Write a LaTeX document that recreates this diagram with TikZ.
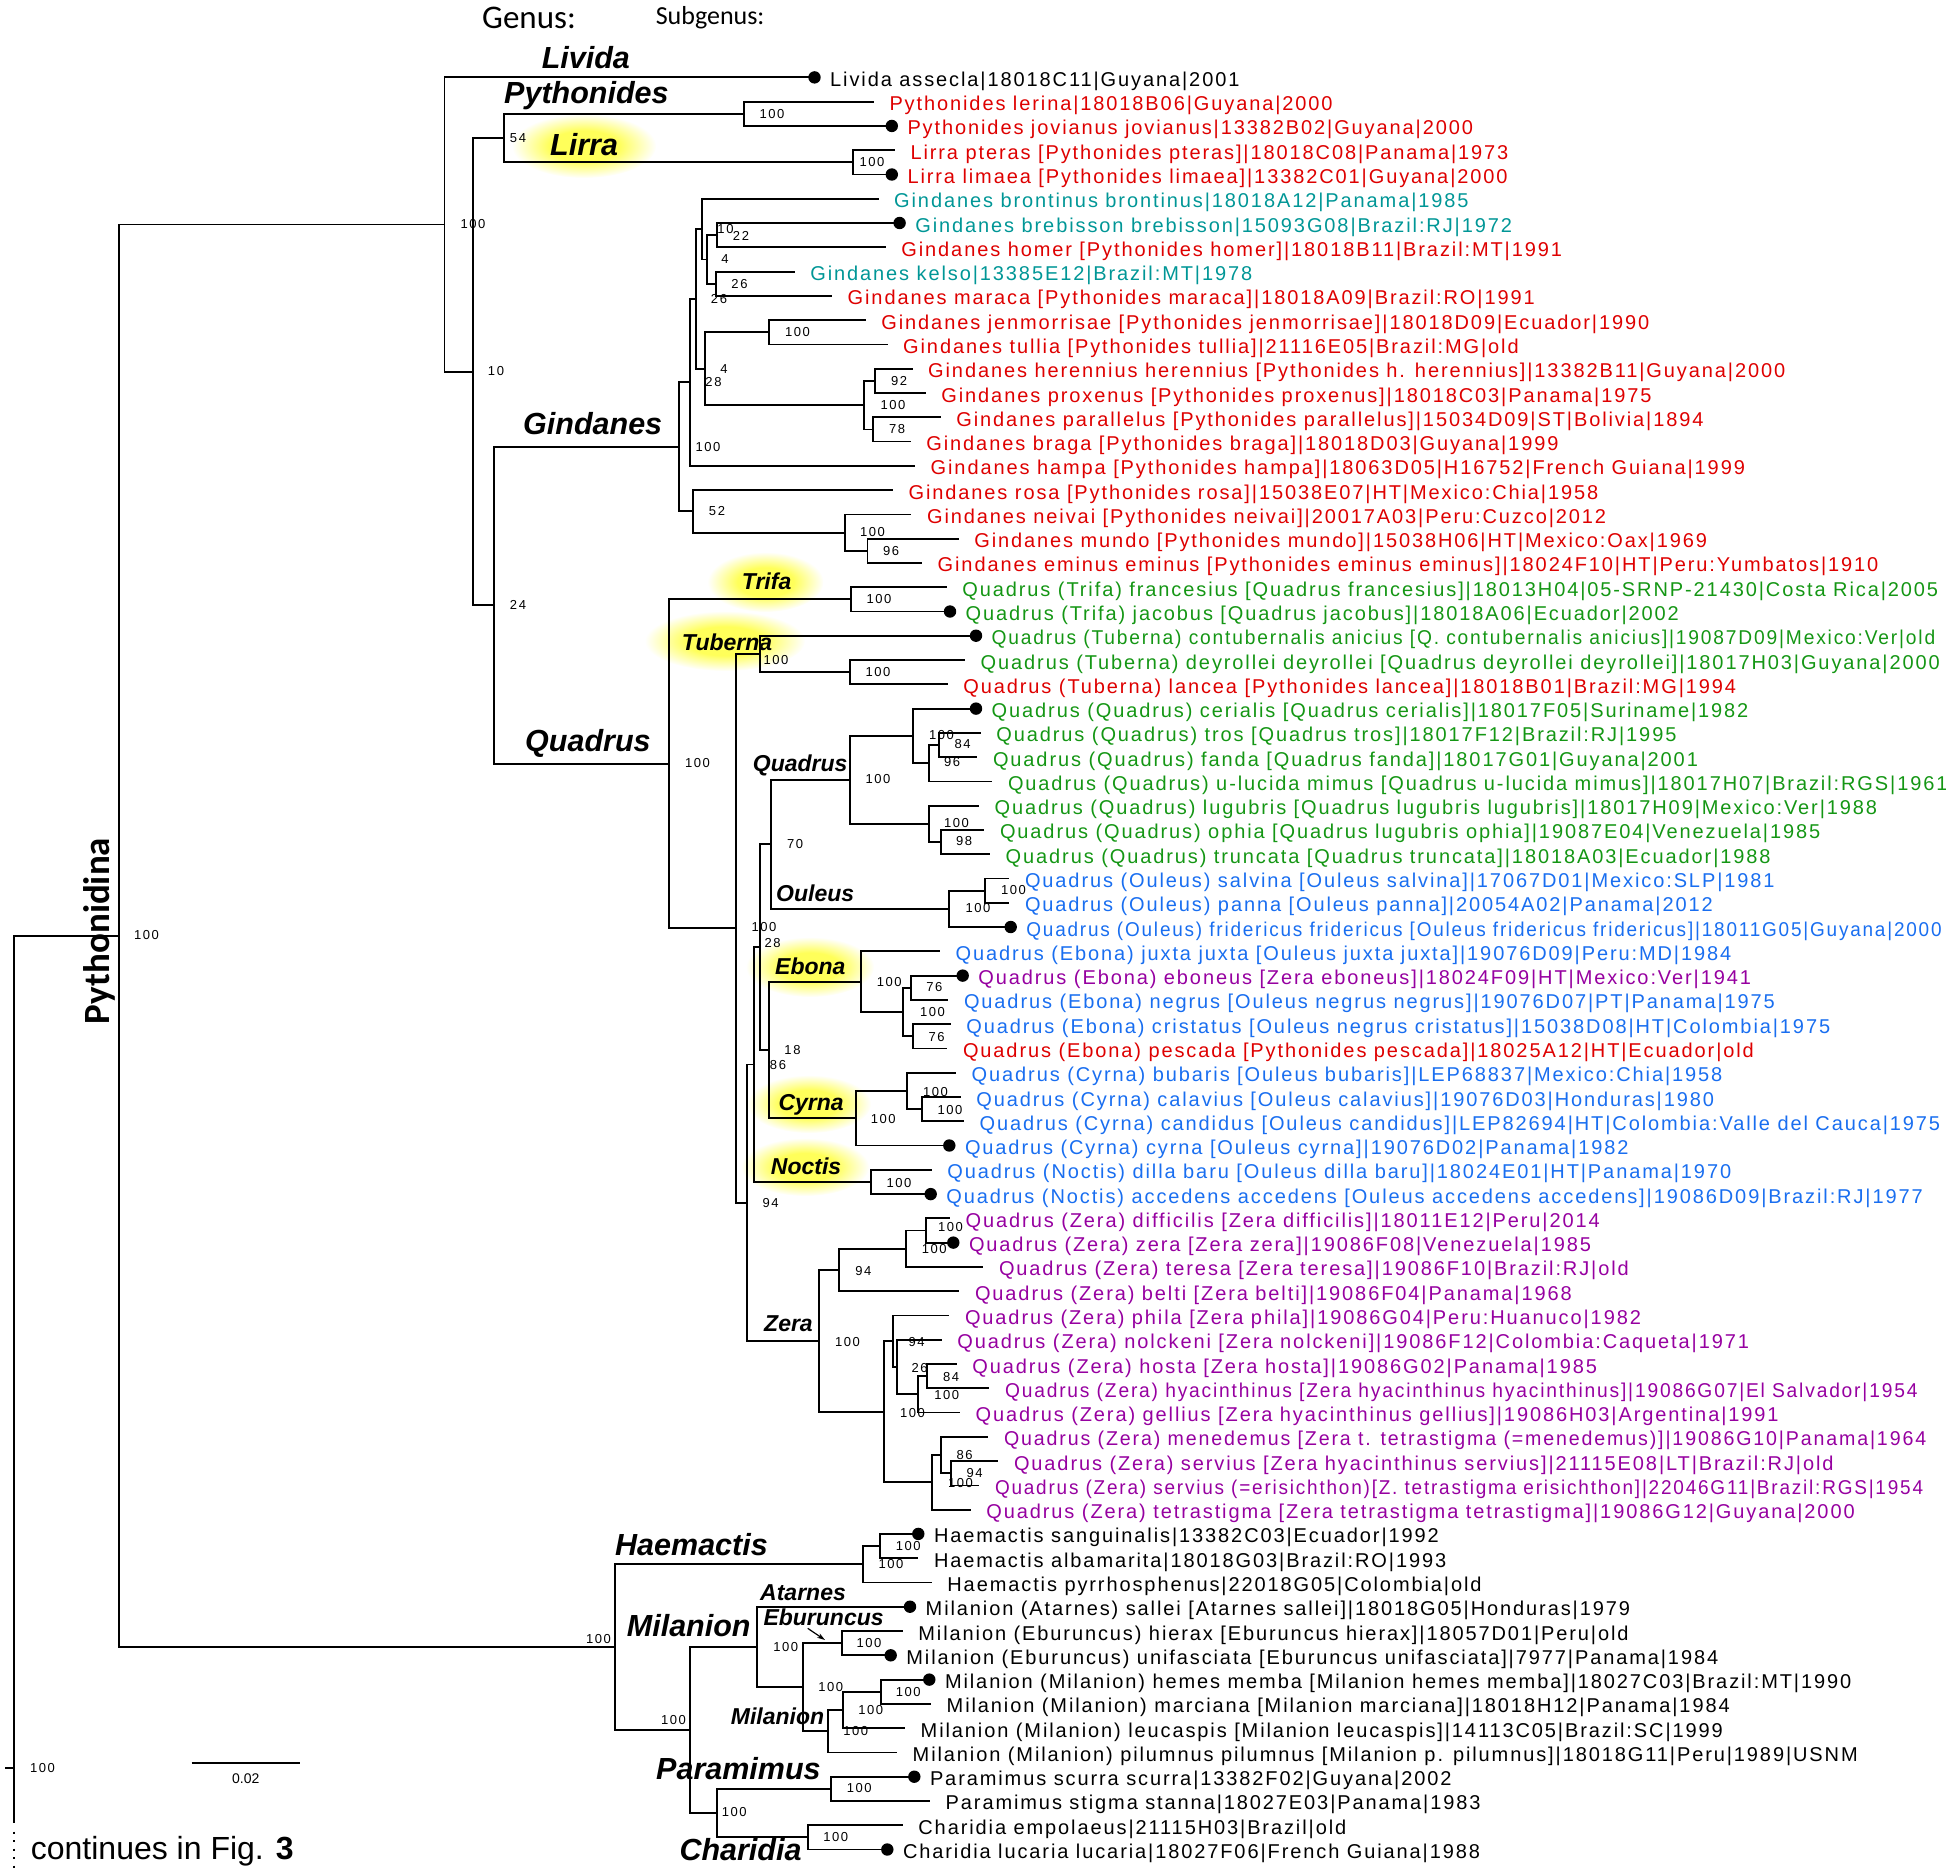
\documentclass[tikz,border=0pt]{standalone}
\usepackage{fontspec}
\setmainfont{Liberation Sans}
\newfontfamily\leaffont[LetterSpace=9.5]{Liberation Sans}
\newfontfamily\bootfont[LetterSpace=12]{Liberation Sans}
\newfontfamily\headfont{Carlito}
\usepackage{tikz}
\usetikzlibrary{fadings,arrows.meta}
\definecolor{pyred}{RGB}{222,0,0}
\definecolor{gteal}{RGB}{0,150,150}
\definecolor{qgreen}{RGB}{20,150,20}
\definecolor{oblue}{RGB}{25,110,240}
\definecolor{zpurple}{RGB}{150,0,160}
\definecolor{glowyellow}{RGB}{255,255,90}
\pgfdeclareradialshading{glowshade}{\pgfpointorigin}{color(0bp)=(pgftransparent!0); color(12bp)=(pgftransparent!0); color(25bp)=(pgftransparent!100)}
\pgfdeclarefading{glowfade}{\pgfuseshading{glowshade}}

\begin{document}
\begin{tikzpicture}[x=1pt, y=-1pt,
		edge_style/.style={draw=black, line width=1.8pt},
		leaf_style/.style={anchor=base west, xshift=15.5pt, yshift=-9pt, inner sep=0pt, font=\leaffont\fontsize{20}{24}\selectfont},
		dot_style/.style={circle, fill=black, inner sep=0pt, minimum size=12.4pt},
		boot_style/.style={inner sep=0pt, font=\bootfont\fontsize{13}{15}\selectfont},
		genus_style/.style={anchor=base west, inner sep=0pt, font=\fontsize{30.5}{36}\selectfont\bfseries\itshape},
		subgenus_style/.style={anchor=base west, inner sep=0pt, font=\fontsize{23}{27}\selectfont\bfseries\itshape},
		glow_style/.style={fill=glowyellow, path fading=glowfade}]
		
		\useasboundingbox (0,0) rectangle (1946,1873);
		
		\fill[glow_style] (584,146) ellipse [x radius=72, y radius=32];
		\fill[glow_style] (765.5,582) ellipse [x radius=58, y radius=30];
		\fill[glow_style] (725,641) ellipse [x radius=80, y radius=30];
		\fill[glow_style] (810,967) ellipse [x radius=64, y radius=30];
		\fill[glow_style] (809,1104) ellipse [x radius=62, y radius=29];
		\fill[glow_style] (805,1167) ellipse [x radius=64, y radius=29];
		
		\node[anchor=base west, inner sep=0pt, font=\headfont\fontsize{33}{38}\selectfont] (genushead) at (482,28.3) {Genus:};
		\node[anchor=base west, inner sep=0pt, font=\headfont\fontsize{26}{30}\selectfont] (subgenushead) at (655.6,25) {Subgenus:};
		\node[rotate=90, inner sep=0pt, font=\headfont\bfseries\fontsize{37}{42}\selectfont] (pythonidina) at (99,931) {Pythonidina};
		
		\node[genus_style] (gLivida) at (541.6,69) {Livida};
		\node[genus_style] (gPythonides) at (504,104) {Pythonides};
		\node[genus_style] (gLirra) at (550,155) {Lirra};
		\node[genus_style] (gGindanes) at (523,434.3) {Gindanes};
		\node[genus_style] (gQuadrus) at (525,751) {Quadrus};
		\node[genus_style] (gHaemactis) at (615,1555) {Haemactis};
		\node[genus_style] (gMilanion) at (626.7,1636.7) {Milanion};
		\node[genus_style] (gParamimus) at (656,1779.3) {Paramimus};
		\node[genus_style] (gCharidia) at (679.3,1860) {Charidia};
		
		\node[subgenus_style] (sTrifa) at (741.7,589.3) {Trifa};
		\node[subgenus_style] (sTuberna) at (681.7,650) {Tuberna};
		\node[subgenus_style] (sQuadrus) at (752.7,771.7) {Quadrus};
		\node[subgenus_style] (sOuleus) at (776,901.7) {Ouleus};
		\node[subgenus_style] (sEbona) at (775,974) {Ebona};
		\node[subgenus_style] (sCyrna) at (778.3,1110) {Cyrna};
		\node[subgenus_style] (sNoctis) at (770.7,1174) {Noctis};
		\node[subgenus_style] (sZera) at (764,1331.7) {Zera};
		\node[subgenus_style] (sAtarnes) at (760,1600) {Atarnes};
		\node[subgenus_style] (sEburuncus) at (763.3,1625) {Eburuncus};
		\node[subgenus_style] (sMilanion) at (730.7,1724) {Milanion};
		
		\coordinate (l1) at (814.5,77.4);
		\coordinate (l2) at (873.8,101.7);
		\coordinate (l3) at (891.8,125.95);
		\coordinate (l4) at (894.8,150.2);
		\coordinate (l5) at (891.8,174.5);
		\coordinate (l6) at (878.5,198.8);
		\coordinate (l7) at (899.6,223.0);
		\coordinate (l8) at (885.7,247.3);
		\coordinate (l9) at (794.6,271.6);
		\coordinate (l10) at (832,295.9);
		\coordinate (l11) at (865.7,320.2);
		\coordinate (l12) at (887.5,344.4);
		\coordinate (l13) at (912.5,368.7);
		\coordinate (l14) at (925.7,393.0);
		\coordinate (l15) at (940.7,417.3);
		\coordinate (l16) at (910.7,441.5);
		\coordinate (l17) at (915,465.8);
		\coordinate (l18) at (892.9,490.1);
		\coordinate (l19) at (911.4,514.4);
		\coordinate (l20) at (958.6,538.6);
		\coordinate (l21) at (922,562.9);
		\coordinate (l22) at (946.7,587.2);
		\coordinate (l23) at (950,611.5);
		\coordinate (l24) at (976,635.7);
		\coordinate (l25) at (965,660.0);
		\coordinate (l26) at (947.7,684.3);
		\coordinate (l27) at (976,708.6);
		\coordinate (l28) at (980.7,732.8);
		\coordinate (l29) at (977.3,757.1);
		\coordinate (l30) at (992.3,781.4);
		\coordinate (l31) at (979,805.7);
		\coordinate (l32) at (984.3,829.9);
		\coordinate (l33) at (990,854.2);
		\coordinate (l34) at (1009.3,878.5);
		\coordinate (l35) at (1009.3,902.8);
		\coordinate (l36) at (1010.7,927.0);
		\coordinate (l37) at (940,951.3);
		\coordinate (l38) at (962.7,975.6);
		\coordinate (l39) at (948.3,999.9);
		\coordinate (l40) at (950.7,1024.1);
		\coordinate (l41) at (947.3,1048.4);
		\coordinate (l42) at (956,1072.7);
		\coordinate (l43) at (960.7,1097.0);
		\coordinate (l44) at (964,1121.2);
		\coordinate (l45) at (949.3,1145.5);
		\coordinate (l46) at (931.7,1169.8);
		\coordinate (l47) at (930.7,1194.1);
		\coordinate (l48) at (950,1218.3);
		\coordinate (l49) at (953.3,1242.6);
		\coordinate (l50) at (983.3,1266.9);
		\coordinate (l51) at (959.3,1291.2);
		\coordinate (l52) at (949.3,1315.4);
		\coordinate (l53) at (941.7,1339.7);
		\coordinate (l54) at (956.7,1364.0);
		\coordinate (l55) at (989.3,1388.3);
		\coordinate (l56) at (960,1412.5);
		\coordinate (l57) at (988.3,1436.8);
		\coordinate (l58) at (998.3,1461.1);
		\coordinate (l59) at (979.3,1485.4);
		\coordinate (l60) at (970.7,1509.6);
		\coordinate (l61) at (918.3,1533.9);
		\coordinate (l62) at (918.3,1558.2);
		\coordinate (l63) at (931.7,1582.5);
		\coordinate (l64) at (910,1606.7);
		\coordinate (l65) at (902.7,1631.0);
		\coordinate (l66) at (890.7,1655.3);
		\coordinate (l67) at (929.3,1679.6);
		\coordinate (l68) at (931,1703.8);
		\coordinate (l69) at (905,1728.1);
		\coordinate (l70) at (897,1752.4);
		\coordinate (l71) at (914.3,1776.7);
		\coordinate (l72) at (930,1800.9);
		\coordinate (l73) at (902.7,1825.2);
		\coordinate (l74) at (887.3,1849.5);
		
		\coordinate (R) at (14.3,1767.7);
		\coordinate (Rstub) at (5,1767.7);
		\coordinate (Rlow) at (14.3,1822.7);
		\coordinate (Rdots) at (14.3,1872);
		\coordinate (PYN) at (118.6,935.85);
		\coordinate (A) at (444.5,224.55);
		\coordinate (B) at (472.7,371.7);
		\coordinate (P) at (504,138.1);
		\coordinate (Py) at (743.7,113.8);
		\coordinate (Li) at (852.7,162.35);
		\coordinate (C) at (494,605.3);
		\coordinate (G0) at (679.3,446.85);
		\coordinate (G1) at (690,382.35);
		\coordinate (G2) at (695.7,298.9);
		\coordinate (G3) at (701.8,229.1);
		\coordinate (G5) at (707.1,259.45);
		\coordinate (G6) at (717.1,235.15);
		\coordinate (G7) at (716,283.75);
		\coordinate (G4) at (705,368.7);
		\coordinate (G8) at (769.3,332.3);
		\coordinate (G9) at (864.3,405.1);
		\coordinate (G10) at (875,380.85);
		\coordinate (G11) at (873.2,429.4);
		\coordinate (G12) at (693.2,511.35);
		\coordinate (G13) at (844.6,532.6);
		\coordinate (G14) at (867.5,550.75);
		\coordinate (Q0) at (669,763.8);
		\coordinate (T) at (850.7,599.35);
		\coordinate (Q1) at (735.7,928.3);
		\coordinate (Tu) at (760,653.9);
		\coordinate (Tu2) at (850,672.15);
		\coordinate (Q7) at (747.3,1202.7);
		\coordinate (Q6) at (754.3,1064.5);
		\coordinate (Q4) at (760,947.1);
		\coordinate (Q3) at (770.7,844.35);
		\coordinate (QQ) at (850,779.9);
		\coordinate (QQa) at (913.3,735.9);
		\coordinate (QQb) at (929,763.2);
		\coordinate (QQc) at (939.3,744.95);
		\coordinate (QQd) at (929,823.9);
		\coordinate (QQe) at (940.7,842.05);
		\coordinate (Ou) at (949.3,908.8);
		\coordinate (Ou2) at (985,890.65);
		\coordinate (Q5) at (768.7,1049.9);
		\coordinate (Eb) at (861.3,981.65);
		\coordinate (Eb2) at (903.3,1012.0);
		\coordinate (Eb3) at (910.7,987.75);
		\coordinate (Eb4) at (912.7,1036.25);
		\coordinate (Cy) at (855.7,1118.2);
		\coordinate (Cy2) at (907.3,1090.9);
		\coordinate (Cy3) at (921.7,1109.1);
		\coordinate (No) at (870.7,1181.95);
		\coordinate (Z0) at (819.3,1340.85);
		\coordinate (Z1) at (839.3,1269.95);
		\coordinate (Z2) at (905.7,1248.7);
		\coordinate (Z3) at (925.7,1230.45);
		\coordinate (Z4) at (884,1411.75);
		\coordinate (Z5) at (893.3,1341.2);
		\coordinate (Z6) at (896.7,1367.0);
		\coordinate (Z7) at (918.3,1394.3);
		\coordinate (Z7b) at (926.7,1376.15);
		\coordinate (Z8) at (931.7,1482.3);
		\coordinate (Z9) at (940.7,1455.0);
		\coordinate (Z10) at (950.7,1473.25);
		\coordinate (M0) at (615,1647.15);
		\coordinate (H) at (862.7,1564.3);
		\coordinate (H2) at (880,1546.05);
		\coordinate (M1) at (690,1730.0);
		\coordinate (Mi) at (756.7,1646.9);
		\coordinate (Mi2) at (802.7,1687.15);
		\coordinate (Eu) at (841.7,1643.15);
		\coordinate (Mi3) at (828.3,1731.15);
		\coordinate (Mi4) at (843.3,1709.9);
		\coordinate (Mi5) at (880.7,1691.7);
		\coordinate (Pc) at (716.7,1813.1);
		\coordinate (Pa) at (830.7,1788.8);
		\coordinate (Ch) at (808.3,1837.35);
		
		\draw[edge_style] (R) |- (PYN) (R) -- (Rlow) (Rstub) -- (R);
		\draw[line width=2pt, dash pattern=on 2pt off 6.5pt] ([yshift=-9pt]Rlow) -- (Rdots);
		\draw[edge_style] (PYN) |- (A) (PYN) |- (M0);
		\draw[edge_style] (A) |- (l1) (A) |- (B);
		\draw[edge_style] (B) |- (P) (B) |- (C);
		\draw[edge_style] (P) |- (Py) (P) |- (Li);
		\draw[edge_style] (Py) |- (l2) (Py) |- (l3);
		\draw[edge_style] (Li) |- (l4) (Li) |- (l5);
		\draw[edge_style] (C) |- (G0) (C) |- (Q0);
		\draw[edge_style] (G0) |- (G1) (G0) |- (G12);
		\draw[edge_style] (G1) |- (G2) (G1) |- (l17);
		\draw[edge_style] (G2) |- (G3) (G2) |- (G4);
		\draw[edge_style] (G3) |- (l6) (G3) |- (G5);
		\draw[edge_style] (G5) |- (G6) (G5) |- (G7);
		\draw[edge_style] (G6) |- (l7) (G6) |- (l8);
		\draw[edge_style] (G7) |- (l9) (G7) |- (l10);
		\draw[edge_style] (G4) |- (G8) (G4) |- (G9);
		\draw[edge_style] (G8) |- (l11) (G8) |- (l12);
		\draw[edge_style] (G9) |- (G10) (G9) |- (G11);
		\draw[edge_style] (G10) |- (l13) (G10) |- (l14);
		\draw[edge_style] (G11) |- (l15) (G11) |- (l16);
		\draw[edge_style] (G12) |- (l18) (G12) |- (G13);
		\draw[edge_style] (G13) |- (l19) (G13) |- (G14);
		\draw[edge_style] (G14) |- (l20) (G14) |- (l21);
		\draw[edge_style] (Q0) |- (T) (Q0) |- (Q1);
		\draw[edge_style] (T) |- (l22) (T) |- (l23);
		\draw[edge_style] (Q1) |- (Tu) (Q1) |- (Q7);
		\draw[edge_style] (Tu) |- (l24) (Tu) |- (Tu2);
		\draw[edge_style] (Tu2) |- (l25) (Tu2) |- (l26);
		\draw[edge_style] (Q7) |- (Q6) (Q7) |- (Z0);
		\draw[edge_style] (Q6) |- (Q4) (Q6) |- (No);
		\draw[edge_style] (Q4) |- (Q3) (Q4) |- (Q5);
		\draw[edge_style] (Q3) |- (QQ) (Q3) |- (Ou);
		\draw[edge_style] (QQ) |- (QQa) (QQ) |- (QQd);
		\draw[edge_style] (QQa) |- (l27) (QQa) |- (QQb);
		\draw[edge_style] (QQb) |- (QQc) (QQb) |- (l30);
		\draw[edge_style] (QQc) |- (l28) (QQc) |- (l29);
		\draw[edge_style] (QQd) |- (l31) (QQd) |- (QQe);
		\draw[edge_style] (QQe) |- (l32) (QQe) |- (l33);
		\draw[edge_style] (Ou) |- (Ou2) (Ou) |- (l36);
		\draw[edge_style] (Ou2) |- (l34) (Ou2) |- (l35);
		\draw[edge_style] (Q5) |- (Eb) (Q5) |- (Cy);
		\draw[edge_style] (Eb) |- (l37) (Eb) |- (Eb2);
		\draw[edge_style] (Eb2) |- (Eb3) (Eb2) |- (Eb4);
		\draw[edge_style] (Eb3) |- (l38) (Eb3) |- (l39);
		\draw[edge_style] (Eb4) |- (l40) (Eb4) |- (l41);
		\draw[edge_style] (Cy) |- (Cy2) (Cy) |- (l45);
		\draw[edge_style] (Cy2) |- (l42) (Cy2) |- (Cy3);
		\draw[edge_style] (Cy3) |- (l43) (Cy3) |- (l44);
		\draw[edge_style] (No) |- (l46) (No) |- (l47);
		\draw[edge_style] (Z0) |- (Z1) (Z0) |- (Z4);
		\draw[edge_style] (Z1) |- (Z2) (Z1) |- (l51);
		\draw[edge_style] (Z2) |- (Z3) (Z2) |- (l50);
		\draw[edge_style] (Z3) |- (l48) (Z3) |- (l49);
		\draw[edge_style] (Z4) |- (Z5) (Z4) |- (Z8);
		\draw[edge_style] (Z5) |- (l52) (Z5) |- (Z6);
		\draw[edge_style] (Z6) |- (l53) (Z6) |- (Z7);
		\draw[edge_style] (Z7) |- (Z7b) (Z7) |- (l56);
		\draw[edge_style] (Z7b) |- (l54) (Z7b) |- (l55);
		\draw[edge_style] (Z8) |- (Z9) (Z8) |- (l60);
		\draw[edge_style] (Z9) |- (l57) (Z9) |- (Z10);
		\draw[edge_style] (Z10) |- (l58) (Z10) |- (l59);
		\draw[edge_style] (M0) |- (H) (M0) |- (M1);
		\draw[edge_style] (H) |- (H2) (H) |- (l63);
		\draw[edge_style] (H2) |- (l61) (H2) |- (l62);
		\draw[edge_style] (M1) |- (Mi) (M1) |- (Pc);
		\draw[edge_style] (Mi) |- (l64) (Mi) |- (Mi2);
		\draw[edge_style] (Mi2) |- (Eu) (Mi2) |- (Mi3);
		\draw[edge_style] (Eu) |- (l65) (Eu) |- (l66);
		\draw[edge_style] (Mi3) |- (Mi4) (Mi3) |- (l70);
		\draw[edge_style] (Mi4) |- (Mi5) (Mi4) |- (l69);
		\draw[edge_style] (Mi5) |- (l67) (Mi5) |- (l68);
		\draw[edge_style] (Pc) |- (Pa) (Pc) |- (Ch);
		\draw[edge_style] (Pa) |- (l71) (Pa) |- (l72);
		\draw[edge_style] (Ch) |- (l73) (Ch) |- (l74);
		
		\coordinate (ebarrowa) at (807.7,1628.3);
		\coordinate (ebarrowb) at (825,1640);
		\draw[line width=1.2pt, -{Stealth[length=8pt, width=5pt]}] (ebarrowa) -- (ebarrowb);
		
		\node[dot_style] (d1) at (l1) {};
		\node[dot_style] (d3) at (l3) {};
		\node[dot_style] (d5) at (l5) {};
		\node[dot_style] (d7) at (l7) {};
		\node[dot_style] (d23) at (l23) {};
		\node[dot_style] (d24) at (l24) {};
		\node[dot_style] (d27) at (l27) {};
		\node[dot_style] (d36) at (l36) {};
		\node[dot_style] (d38) at (l38) {};
		\node[dot_style] (d45) at (l45) {};
		\node[dot_style] (d47) at (l47) {};
		\node[dot_style] (d49) at (l49) {};
		\node[dot_style] (d61) at (l61) {};
		\node[dot_style] (d64) at (l64) {};
		\node[dot_style] (d66) at (l66) {};
		\node[dot_style] (d67) at (l67) {};
		\node[dot_style] (d71) at (l71) {};
		\node[dot_style] (d74) at (l74) {};
		
		\node[leaf_style] (n1) at (l1) {Livida assecla|18018C11|Guyana|2001};
		\node[leaf_style, text=pyred] (n2) at (l2) {Pythonides lerina|18018B06|Guyana|2000};
		\node[leaf_style, text=pyred] (n3) at (l3) {Pythonides jovianus jovianus|13382B02|Guyana|2000};
		\node[leaf_style, text=pyred] (n4) at (l4) {Lirra pteras [Pythonides pteras]|18018C08|Panama|1973};
		\node[leaf_style, text=pyred] (n5) at (l5) {Lirra limaea [Pythonides limaea]|13382C01|Guyana|2000};
		\node[leaf_style, text=gteal] (n6) at (l6) {Gindanes brontinus brontinus|18018A12|Panama|1985};
		\node[leaf_style, text=gteal] (n7) at (l7) {Gindanes brebisson brebisson|15093G08|Brazil:RJ|1972};
		\node[leaf_style, text=pyred] (n8) at (l8) {Gindanes homer [Pythonides homer]|18018B11|Brazil:MT|1991};
		\node[leaf_style, text=gteal] (n9) at (l9) {Gindanes kelso|13385E12|Brazil:MT|1978};
		\node[leaf_style, text=pyred] (n10) at (l10) {Gindanes maraca [Pythonides maraca]|18018A09|Brazil:RO|1991};
		\node[leaf_style, text=pyred] (n11) at (l11) {Gindanes jenmorrisae [Pythonides jenmorrisae]|18018D09|Ecuador|1990};
		\node[leaf_style, text=pyred] (n12) at (l12) {Gindanes tullia [Pythonides tullia]|21116E05|Brazil:MG|old};
		\node[leaf_style, text=pyred] (n13) at (l13) {Gindanes herennius herennius [Pythonides h. herennius]|13382B11|Guyana|2000};
		\node[leaf_style, text=pyred] (n14) at (l14) {Gindanes proxenus [Pythonides proxenus]|18018C03|Panama|1975};
		\node[leaf_style, text=pyred] (n15) at (l15) {Gindanes parallelus [Pythonides parallelus]|15034D09|ST|Bolivia|1894};
		\node[leaf_style, text=pyred] (n16) at (l16) {Gindanes braga [Pythonides braga]|18018D03|Guyana|1999};
		\node[leaf_style, text=pyred] (n17) at (l17) {Gindanes hampa [Pythonides hampa]|18063D05|H16752|French Guiana|1999};
		\node[leaf_style, text=pyred] (n18) at (l18) {Gindanes rosa [Pythonides rosa]|15038E07|HT|Mexico:Chia|1958};
		\node[leaf_style, text=pyred] (n19) at (l19) {Gindanes neivai [Pythonides neivai]|20017A03|Peru:Cuzco|2012};
		\node[leaf_style, text=pyred] (n20) at (l20) {Gindanes mundo [Pythonides mundo]|15038H06|HT|Mexico:Oax|1969};
		\node[leaf_style, text=pyred] (n21) at (l21) {Gindanes eminus eminus [Pythonides eminus eminus]|18024F10|HT|Peru:Yumbatos|1910};
		\node[leaf_style, text=qgreen] (n22) at (l22) {Quadrus (Trifa) francesius [Quadrus francesius]|18013H04|05-SRNP-21430|Costa Rica|2005};
		\node[leaf_style, text=qgreen] (n23) at (l23) {Quadrus (Trifa) jacobus [Quadrus jacobus]|18018A06|Ecuador|2002};
		\node[leaf_style, text=qgreen] (n24) at (l24) {\scalebox{0.96}[1]{Quadrus (Tuberna) contubernalis anicius [Q. contubernalis anicius]|19087D09|Mexico:Ver|old}};
		\node[leaf_style, text=qgreen] (n25) at (l25) {Quadrus (Tuberna) deyrollei deyrollei [Quadrus deyrollei deyrollei]|18017H03|Guyana|2000};
		\node[leaf_style, text=pyred] (n26) at (l26) {Quadrus (Tuberna) lancea [Pythonides lancea]|18018B01|Brazil:MG|1994};
		\node[leaf_style, text=qgreen] (n27) at (l27) {Quadrus (Quadrus) cerialis [Quadrus cerialis]|18017F05|Suriname|1982};
		\node[leaf_style, text=qgreen] (n28) at (l28) {Quadrus (Quadrus) tros [Quadrus tros]|18017F12|Brazil:RJ|1995};
		\node[leaf_style, text=qgreen] (n29) at (l29) {Quadrus (Quadrus) fanda [Quadrus fanda]|18017G01|Guyana|2001};
		\node[leaf_style, text=qgreen] (n30) at (l30) {Quadrus (Quadrus) u-lucida mimus [Quadrus u-lucida mimus]|18017H07|Brazil:RGS|1961};
		\node[leaf_style, text=qgreen] (n31) at (l31) {Quadrus (Quadrus) lugubris [Quadrus lugubris lugubris]|18017H09|Mexico:Ver|1988};
		\node[leaf_style, text=qgreen] (n32) at (l32) {Quadrus (Quadrus) ophia [Quadrus lugubris ophia]|19087E04|Venezuela|1985};
		\node[leaf_style, text=qgreen] (n33) at (l33) {Quadrus (Quadrus) truncata [Quadrus truncata]|18018A03|Ecuador|1988};
		\node[leaf_style, text=oblue] (n34) at (l34) {Quadrus (Ouleus) salvina [Ouleus salvina]|17067D01|Mexico:SLP|1981};
		\node[leaf_style, text=oblue] (n35) at (l35) {Quadrus (Ouleus) panna [Ouleus panna]|20054A02|Panama|2012};
		\node[leaf_style, text=oblue] (n36) at (l36) {\scalebox{0.948}[1]{Quadrus (Ouleus) fridericus fridericus [Ouleus fridericus fridericus]|18011G05|Guyana|2000}};
		\node[leaf_style, text=oblue] (n37) at (l37) {Quadrus (Ebona) juxta juxta [Ouleus juxta juxta]|19076D09|Peru:MD|1984};
		\node[leaf_style, text=zpurple] (n38) at (l38) {Quadrus (Ebona) eboneus [Zera eboneus]|18024F09|HT|Mexico:Ver|1941};
		\node[leaf_style, text=oblue] (n39) at (l39) {Quadrus (Ebona) negrus [Ouleus negrus negrus]|19076D07|PT|Panama|1975};
		\node[leaf_style, text=oblue] (n40) at (l40) {Quadrus (Ebona) cristatus [Ouleus negrus cristatus]|15038D08|HT|Colombia|1975};
		\node[leaf_style, text=pyred] (n41) at (l41) {Quadrus (Ebona) pescada [Pythonides pescada]|18025A12|HT|Ecuador|old};
		\node[leaf_style, text=oblue] (n42) at (l42) {Quadrus (Cyrna) bubaris [Ouleus bubaris]|LEP68837|Mexico:Chia|1958};
		\node[leaf_style, text=oblue] (n43) at (l43) {Quadrus (Cyrna) calavius [Ouleus calavius]|19076D03|Honduras|1980};
		\node[leaf_style, text=oblue] (n44) at (l44) {Quadrus (Cyrna) candidus [Ouleus candidus]|LEP82694|HT|Colombia:Valle del Cauca|1975};
		\node[leaf_style, text=oblue] (n45) at (l45) {Quadrus (Cyrna) cyrna [Ouleus cyrna]|19076D02|Panama|1982};
		\node[leaf_style, text=oblue] (n46) at (l46) {Quadrus (Noctis) dilla baru [Ouleus dilla baru]|18024E01|HT|Panama|1970};
		\node[leaf_style, text=oblue] (n47) at (l47) {Quadrus (Noctis) accedens accedens [Ouleus accedens accedens]|19086D09|Brazil:RJ|1977};
		\node[leaf_style, text=zpurple] (n48) at (l48) {Quadrus (Zera) difficilis [Zera difficilis]|18011E12|Peru|2014};
		\node[leaf_style, text=zpurple] (n49) at (l49) {Quadrus (Zera) zera [Zera zera]|19086F08|Venezuela|1985};
		\node[leaf_style, text=zpurple] (n50) at (l50) {Quadrus (Zera) teresa [Zera teresa]|19086F10|Brazil:RJ|old};
		\node[leaf_style, text=zpurple] (n51) at (l51) {Quadrus (Zera) belti [Zera belti]|19086F04|Panama|1968};
		\node[leaf_style, text=zpurple] (n52) at (l52) {Quadrus (Zera) phila [Zera phila]|19086G04|Peru:Huanuco|1982};
		\node[leaf_style, text=zpurple] (n53) at (l53) {Quadrus (Zera) nolckeni [Zera nolckeni]|19086F12|Colombia:Caqueta|1971};
		\node[leaf_style, text=zpurple] (n54) at (l54) {Quadrus (Zera) hosta [Zera hosta]|19086G02|Panama|1985};
		\node[leaf_style, text=zpurple] (n55) at (l55) {\scalebox{0.96}[1]{Quadrus (Zera) hyacinthinus [Zera hyacinthinus hyacinthinus]|19086G07|El Salvador|1954}};
		\node[leaf_style, text=zpurple] (n56) at (l56) {Quadrus (Zera) gellius [Zera hyacinthinus gellius]|19086H03|Argentina|1991};
		\node[leaf_style, text=zpurple] (n57) at (l57) {\scalebox{0.98}[1]{Quadrus (Zera) menedemus [Zera t. tetrastigma (=menedemus)]|19086G10|Panama|1964}};
		\node[leaf_style, text=zpurple] (n58) at (l58) {Quadrus (Zera) servius [Zera hyacinthinus servius]|21115E08|LT|Brazil:RJ|old};
		\node[leaf_style, text=zpurple] (n59) at (l59) {\scalebox{0.948}[1]{Quadrus (Zera) servius (=erisichthon)[Z. tetrastigma erisichthon]|22046G11|Brazil:RGS|1954}};
		\node[leaf_style, text=zpurple] (n60) at (l60) {Quadrus (Zera) tetrastigma [Zera tetrastigma tetrastigma]|19086G12|Guyana|2000};
		\node[leaf_style] (n61) at (l61) {Haemactis sanguinalis|13382C03|Ecuador|1992};
		\node[leaf_style] (n62) at (l62) {Haemactis albamarita|18018G03|Brazil:RO|1993};
		\node[leaf_style] (n63) at (l63) {Haemactis pyrrhosphenus|22018G05|Colombia|old};
		\node[leaf_style] (n64) at (l64) {Milanion (Atarnes) sallei [Atarnes sallei]|18018G05|Honduras|1979};
		\node[leaf_style] (n65) at (l65) {Milanion (Eburuncus) hierax [Eburuncus hierax]|18057D01|Peru|old};
		\node[leaf_style] (n66) at (l66) {Milanion (Eburuncus) unifasciata [Eburuncus unifasciata]|7977|Panama|1984};
		\node[leaf_style] (n67) at (l67) {Milanion (Milanion) hemes memba [Milanion hemes memba]|18027C03|Brazil:MT|1990};
		\node[leaf_style] (n68) at (l68) {Milanion (Milanion) marciana [Milanion marciana]|18018H12|Panama|1984};
		\node[leaf_style] (n69) at (l69) {Milanion (Milanion) leucaspis [Milanion leucaspis]|14113C05|Brazil:SC|1999};
		\node[leaf_style] (n70) at (l70) {Milanion (Milanion) pilumnus pilumnus [Milanion p. pilumnus]|18018G11|Peru|1989|USNM};
		\node[leaf_style] (n71) at (l71) {Paramimus scurra scurra|13382F02|Guyana|2002};
		\node[leaf_style] (n72) at (l72) {Paramimus stigma stanna|18027E03|Panama|1983};
		\node[leaf_style] (n73) at (l73) {Charidia empolaeus|21115H03|Brazil|old};
		\node[leaf_style] (n74) at (l74) {Charidia lucaria lucaria|18027F06|French Guiana|1988};
		
		\node[boot_style] (b1) at (473,224.5) {100};
		\node[boot_style] (b2) at (496,371.5) {10};
		\node[boot_style] (b3) at (518,138) {54};
		\node[boot_style] (b4) at (772,114) {100};
		\node[boot_style] (b5) at (872,162.5) {100};
		\node[boot_style] (b6) at (518,605) {24};
		\node[boot_style] (b7) at (708,447) {100};
		\node[boot_style] (b8) at (725.5,229.5) {10};
		\node[boot_style] (b9) at (741,236) {22};
		\node[boot_style] (b10) at (725,259.5) {4};
		\node[boot_style] (b11) at (739.5,284) {26};
		\node[boot_style] (b12) at (719,299) {26};
		\node[boot_style] (b13) at (797.5,332.5) {100};
		\node[boot_style] (b14) at (724,369) {4};
		\node[boot_style] (b15) at (713.5,382.5) {28};
		\node[boot_style] (b16) at (899,381) {92};
		\node[boot_style] (b17) at (893,405) {100};
		\node[boot_style] (b18) at (897,429.5) {78};
		\node[boot_style] (b19) at (717,511.5) {52};
		\node[boot_style] (b20) at (872.5,532.5) {100};
		\node[boot_style] (b21) at (891,551) {96};
		\node[boot_style] (b22) at (697.5,763.5) {100};
		\node[boot_style] (b23) at (879,599.5) {100};
		\node[boot_style] (b24) at (776,660.5) {100};
		\node[boot_style] (b25) at (878,672.5) {100};
		\node[boot_style] (b26) at (878,779.5) {100};
		\node[boot_style] (b27) at (941.5,735.5) {100};
		\node[boot_style] (b28) at (962.5,744.5) {84};
		\node[boot_style] (b29) at (952,762.5) {96};
		\node[boot_style] (b30) at (956.5,823.5) {100};
		\node[boot_style] (b31) at (964,841.5) {98};
		\node[boot_style] (b32) at (795,844) {70};
		\node[boot_style] (b33) at (764,927.5) {100};
		\node[boot_style] (b34) at (772.5,943.5) {28};
		\node[boot_style] (b35) at (978,908.5) {100};
		\node[boot_style] (b36) at (1013.5,890) {100};
		\node[boot_style] (b37) at (889.3,981.7) {100};
		\node[boot_style] (b38) at (934.3,987.3) {76};
		\node[boot_style] (b39) at (932.5,1011.7) {100};
		\node[boot_style] (b40) at (936.7,1036.7) {76};
		\node[boot_style] (b41) at (792.5,1050) {18};
		\node[boot_style] (b42) at (778,1065.3) {86};
		\node[boot_style] (b43) at (935.5,1091.7) {100};
		\node[boot_style] (b44) at (950,1110) {100};
		\node[boot_style] (b45) at (883.3,1119.3) {100};
		\node[boot_style] (b46) at (899,1182.7) {100};
		\node[boot_style] (b47) at (770.7,1203.3) {94};
		\node[boot_style] (b48) at (950.5,1226.7) {100};
		\node[boot_style] (b49) at (934.2,1249) {100};
		\node[boot_style] (b50) at (863.3,1270.7) {94};
		\node[boot_style] (b51) at (847.5,1341.7) {100};
		\node[boot_style] (b52) at (916.7,1342.3) {94};
		\node[boot_style] (b53) at (919.7,1367.7) {26};
		\node[boot_style] (b54) at (951,1376.7) {84};
		\node[boot_style] (b55) at (946.7,1395) {100};
		\node[boot_style] (b56) at (912.5,1412.7) {100};
		\node[boot_style] (b57) at (964.7,1455) {86};
		\node[boot_style] (b58) at (974.7,1473.3) {94};
		\node[boot_style] (b59) at (960.5,1482.7) {100};
		\node[boot_style] (b60) at (598.5,1639) {100};
		\node[boot_style] (b61) at (908.3,1546) {100};
		\node[boot_style] (b62) at (891,1564.3) {100};
		\node[boot_style] (b63) at (673.5,1720) {100};
		\node[boot_style] (b64) at (785.8,1646.7) {100};
		\node[boot_style] (b65) at (869,1643.3) {100};
		\node[boot_style] (b66) at (830.8,1686.7) {100};
		\node[boot_style] (b67) at (908.3,1691.7) {100};
		\node[boot_style] (b68) at (870.8,1710) {100};
		\node[boot_style] (b69) at (855.8,1731) {100};
		\node[boot_style] (b70) at (734.2,1812.3) {100};
		\node[boot_style] (b71) at (859.2,1788.3) {100};
		\node[boot_style] (b72) at (835.8,1837.3) {100};
		\node[boot_style] (b73) at (146.5,935) {100};
		\node[boot_style] (b74) at (42.5,1767.7) {100};
		
		\coordinate (scaleL) at (191.7,1762.7);
		\coordinate (scaleR) at (300,1762.7);
		\draw[edge_style] (scaleL) -- (scaleR);
		\node[inner sep=0pt, font=\fontsize{14}{16}\selectfont] (scalelbl) at (245.7,1778.3) {0.02};
		\node[anchor=base west, inner sep=0pt, font=\fontsize{32}{36}\selectfont] (contlbl) at (30.7,1859.3) {continues in Fig. \textbf{3}};
		
\end{tikzpicture}
\end{document}
